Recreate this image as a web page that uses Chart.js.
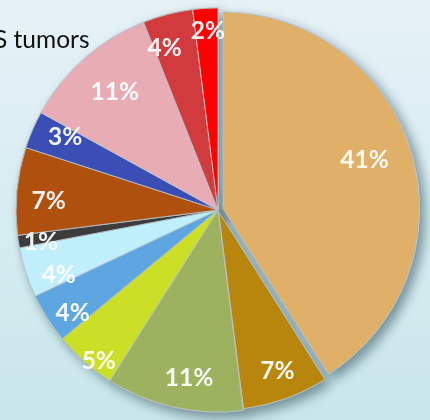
<!DOCTYPE html>
<html>
<head>
<meta charset="utf-8">
<script src="https://cdn.jsdelivr.net/npm/chart.js@4.4.0/dist/chart.umd.min.js"></script>
<style>
  html, body { margin: 0; padding: 0; }
  body {
    width: 430px;
    height: 420px;
    overflow: hidden;
    position: relative;
    background: linear-gradient(to bottom, #e6f1f7 0%, #d7edf2 50%, #c8e6ea 100%);
    font-family: Lato, sans-serif;
  }
  #chart { position: absolute; left: 0; top: 0; }
  #title {
    position: absolute;
    left: -6px;
    top: 27px;
    font-size: 24.5px;
    line-height: 1;
    color: #111;
    white-space: nowrap;
  }
</style>
</head>
<body>
<canvas id="chart" width="430" height="420"></canvas>
<div id="title">S tumors</div>
<script>
// Data (clockwise from 12 o'clock)
const categories = ['Group 1', 'Group 2', 'Group 3', 'Group 4', 'Group 5', 'Group 6',
                    'Group 7', 'Group 8', 'Group 9', 'Group 10', 'Group 11', 'Group 12'];
const shares = [41, 7, 11, 5, 4, 4, 1, 7, 3, 11, 4, 2];

// Styling
const sliceColors = ['#E1B068', '#B8860D', '#9CB25F', '#CADF25', '#5EA6E2', '#BEEFFB',
                     '#3C3C3C', '#B0500F', '#3A4EB6', '#E8ACB5', '#D23B3D', '#FF0000'];
const sliceOffsets = [21, 6, 0, 0, 0, 0, 0, 0, 0, 0, 0, 0];
const radiusShrink = [8, 4, 0, 0, 0, 0, 0, 0, 0, 0, 0, 0];
// label placement relative to each slice: fraction of radius, angle nudge (deg)
const labelRadius = [0.76, 0.85, 0.84, 0.95, 0.88, 0.85, 0.89, 0.84, 0.84, 0.78, 0.85, 0.89];
const labelNudge = [-3, -0.6, -2.8, -3, -2.8, -4, -1, -2, 2.4, 0.5, -3.7, 0.4];

// Shrink the exploded slices a little, like the original
const shrinkPlugin = {
  id: 'shrink',
  afterDatasetsUpdate(chart) {
    const meta = chart.getDatasetMeta(0);
    meta.data.forEach((arc, i) => {
      arc.outerRadius = arc.outerRadius - radiusShrink[i];
    });
  }
};

// Soft drop shadow under the pie
const shadowPlugin = {
  id: 'pieShadow',
  beforeDatasetsDraw(chart) {
    const ctx = chart.ctx;
    const meta = chart.getDatasetMeta(0);
    ctx.save();
    ctx.shadowColor = 'rgba(30, 60, 70, 0.5)';
    ctx.shadowBlur = 11;
    ctx.shadowOffsetX = 5;
    ctx.shadowOffsetY = 5;
    meta.data.forEach(arc => arc.draw(ctx));
    ctx.restore();
  }
};

// Percent labels inside the slices
const labelPlugin = {
  id: 'pctLabels',
  afterDatasetsDraw(chart) {
    const ctx = chart.ctx;
    const meta = chart.getDatasetMeta(0);
    ctx.save();
    ctx.font = 'bold 24.5px Lato';
    ctx.fillStyle = 'rgba(255, 255, 255, 0.93)';
    ctx.textAlign = 'center';
    ctx.textBaseline = 'middle';
    meta.data.forEach((arc, i) => {
      const p = arc.getProps(['x', 'y', 'startAngle', 'endAngle', 'outerRadius', 'circumference'], true);
      const half = (p.startAngle + p.endAngle) / 2;
      // same displacement Chart.js uses for offset slices
      const off = (sliceOffsets[i] || 0) / 4;
      const fix = 1 - Math.sin(Math.min(Math.PI, p.circumference));
      const disp = off + off * fix;
      const cx = p.x + Math.cos(half) * disp;
      const cy = p.y + Math.sin(half) * disp;
      const a = half + labelNudge[i] * Math.PI / 180;
      const r = p.outerRadius * labelRadius[i];
      ctx.fillText(shares[i] + '%', cx + Math.cos(a) * r, cy + Math.sin(a) * r + 1);
    });
    ctx.restore();
  }
};

new Chart(document.getElementById('chart'), {
  type: 'pie',
  data: {
    labels: categories,
    datasets: [{
      data: shares,
      backgroundColor: sliceColors,
      borderColor: 'rgba(185, 195, 200, 0.9)',
      borderWidth: 1,
      offset: sliceOffsets
    }]
  },
  options: {
    responsive: false,
    animation: false,
    devicePixelRatio: 1,
    radius: 202,
    layout: { padding: { left: 6, right: 0, top: 0, bottom: 0 } },
    plugins: {
      legend: { display: false },
      tooltip: { enabled: false }
    }
  },
  plugins: [shrinkPlugin, shadowPlugin, labelPlugin]
});
</script>
</body>
</html>
